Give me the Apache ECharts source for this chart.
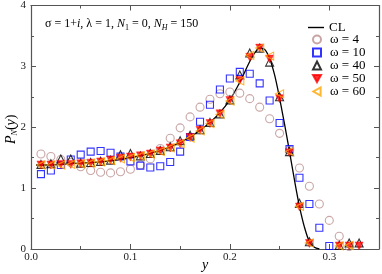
<!DOCTYPE html>
<html><head><meta charset="utf-8">
<script src="https://cdn.jsdelivr.net/npm/echarts@6/dist/echarts.min.js"></script>
<style>html,body{margin:0;padding:0;background:#fff}#c{width:382px;height:274px}</style>
</head><body><div id="c"></div>
<script>
// CL curve
const clX = [0.005,0.01,0.02,0.03,0.04,0.05,0.06,0.07,0.08,0.09,0.10,0.11,0.12,0.13,0.14,0.15,0.16,0.17,0.18,0.19,0.20,0.21,0.22,0.225,0.23,0.235,0.24,0.245,0.25,0.255,0.26,0.265,0.27,0.275,0.28,0.285,0.29];
const clY = [1.38,1.38,1.38,1.39,1.40,1.41,1.42,1.43,1.45,1.47,1.50,1.53,1.57,1.62,1.68,1.75,1.84,1.95,2.08,2.24,2.45,2.74,3.08,3.22,3.30,3.28,3.13,2.86,2.48,2.05,1.60,1.13,0.70,0.36,0.12,0.03,0.0];
// omega = 4
const w4X = [0.01,0.02,0.03,0.04,0.05,0.06,0.07,0.08,0.09,0.10,0.11,0.12,0.13,0.14,0.15,0.16,0.17,0.18,0.19,0.20,0.21,0.22,0.23,0.24,0.25,0.26,0.27,0.28,0.29,0.30,0.31,0.32];
const w4Y = [1.56,1.52,1.47,1.42,1.35,1.29,1.26,1.25,1.27,1.31,1.38,1.48,1.65,1.82,1.99,2.17,2.33,2.46,2.55,2.58,2.56,2.47,2.33,2.14,1.90,1.62,1.33,1.03,0.74,0.47,0.21,0.04];
// omega = 10
const w10X = [0.01,0.02,0.03,0.04,0.05,0.06,0.07,0.08,0.09,0.10,0.11,0.12,0.13,0.14,0.15,0.16,0.17,0.18,0.19,0.20,0.21,0.22,0.23,0.24,0.25,0.26,0.27,0.28,0.29,0.30];
const w10Y = [1.23,1.29,1.38,1.47,1.55,1.60,1.61,1.58,1.52,1.44,1.37,1.34,1.36,1.43,1.60,1.84,2.09,2.37,2.62,2.80,2.91,2.88,2.72,2.44,2.07,1.64,1.17,0.74,0.35,0.05];
// omega = 40
const w40X = [0.01,0.02,0.03,0.04,0.05,0.06,0.07,0.08,0.09,0.10,0.11,0.12,0.13,0.14,0.15,0.16,0.17,0.18,0.19,0.20,0.21,0.22,0.23,0.24,0.25,0.26,0.27,0.28,0.31,0.32,0.33];
const w40Y = [1.39,1.40,1.48,1.48,1.41,1.42,1.44,1.46,1.55,1.57,1.53,1.57,1.62,1.68,1.78,1.87,1.96,2.08,2.22,2.45,2.86,3.22,3.30,3.07,2.50,1.60,0.75,0.12,0.06,0.10,0.10];
// omega = 50
const w50X = [0.01,0.02,0.03,0.04,0.05,0.06,0.07,0.08,0.09,0.10,0.11,0.12,0.13,0.14,0.15,0.16,0.17,0.18,0.19,0.20,0.21,0.22,0.23,0.24,0.25,0.26,0.27,0.28,0.31,0.32,0.33];
const w50Y = [1.38,1.38,1.39,1.39,1.40,1.41,1.43,1.46,1.49,1.51,1.53,1.56,1.61,1.66,1.73,1.83,1.95,2.06,2.22,2.44,2.77,3.15,3.30,3.12,2.47,1.58,0.69,0.09,0.05,0.05,0.05];
// omega = 60
const w60X = [0.01,0.02,0.03,0.04,0.05,0.06,0.07,0.08,0.09,0.10,0.11,0.12,0.13,0.14,0.15,0.16,0.17,0.18,0.19,0.20,0.21,0.22,0.23,0.24,0.25,0.26,0.27,0.28,0.31,0.32];
const w60Y = [1.38,1.38,1.38,1.39,1.40,1.41,1.43,1.45,1.48,1.50,1.53,1.56,1.60,1.66,1.73,1.82,1.94,2.06,2.21,2.43,2.76,3.18,3.30,3.17,2.55,1.60,0.70,0.10,0.05,0.06];
const xTicks = ['0.0','0.1','0.2','0.3'];
const yTicks = ['0','1','2','3','4'];

const pairs = (xa, ya) => xa.map((x, i) => [x, ya[i]]);
const serif = 'Liberation Serif';
const axisCol = '#555';
const triDown = 'path://M0,0 L10,0 L5,9 Z';
const triLeft = 'path://M9,0 L9,10 L0,5 Z';

const chart = echarts.init(document.getElementById('c'), null, {renderer: 'canvas'});
const baseAxis = {
  type: 'value',
  axisLine: {show: true, onZero: false, lineStyle: {color: axisCol, width: 1.2}},
  axisTick: {show: true, inside: true, length: 5, lineStyle: {color: axisCol}},
  minorTick: {show: true, splitNumber: 2, length: 3, lineStyle: {color: axisCol}},
  splitLine: {show: false},
  minorSplitLine: {show: false}
};
const xLab = v => { const k = Math.round(v * 10); return Math.abs(v * 10 - k) < 1e-6 && k < xTicks.length ? xTicks[k] : ''; };
const yLab = v => { const k = Math.round(v); return Math.abs(v - k) < 1e-6 && k < yTicks.length ? yTicks[k] : ''; };
const legText = {fontFamily: serif, fontSize: 13, color: '#000', lineHeight: 12};

const option = {
  animation: false,
  backgroundColor: '#fff',
  textStyle: {fontFamily: serif},
  grid: {left: 31, right: 2, top: 5, bottom: 25},
  xAxis: [
    Object.assign({}, baseAxis, {min: 0, max: 0.35, interval: 0.1, position: 'bottom',
      axisLabel: {show: true, margin: 3, fontFamily: serif, fontSize: 11, color: '#222', formatter: xLab}}),
    Object.assign({}, baseAxis, {min: 0, max: 0.35, interval: 0.1, position: 'top', axisLabel: {show: false}})
  ],
  yAxis: [
    Object.assign({}, baseAxis, {min: 0, max: 4, interval: 1, position: 'left',
      axisLabel: {show: true, margin: 5, fontFamily: serif, fontSize: 11, color: '#222', formatter: yLab}}),
    Object.assign({}, baseAxis, {min: 0, max: 4, interval: 1, position: 'right', axisLabel: {show: false}})
  ],
  legend: [
    {orient: 'vertical', left: 303, top: 16, itemWidth: 16, itemHeight: 1.4, itemGap: 0,
      data: [{name: 'CL', icon: 'rect'}], textStyle: legText, selectedMode: false},
    {orient: 'vertical', left: 307, top: 28, itemWidth: 8, itemHeight: 8, itemGap: 0,
      data: ['ω = 4', 'ω = 10', 'ω = 40', 'ω = 50', 'ω = 60'],
      textStyle: Object.assign({padding: [0, 0, 0, 4]}, legText), selectedMode: false}
  ],
  series: [
    {name: 'CL', type: 'line', data: pairs(clX, clY), smooth: 0.3, showSymbol: false, symbol: 'none',
      lineStyle: {color: '#000', width: 1.3}, itemStyle: {color: '#000'}, z: 1},
    {name: 'ω = 4', type: 'scatter', data: pairs(w4X, w4Y), symbol: 'circle', symbolSize: 8,
      itemStyle: {color: 'rgba(0,0,0,0)', borderColor: '#bc8f8f', borderWidth: 1.1}, z: 2},
    {name: 'ω = 10', type: 'scatter', data: pairs(w10X, w10Y), symbol: 'rect', symbolSize: 7,
      itemStyle: {color: 'rgba(0,0,0,0)', borderColor: '#0000ff', borderWidth: 1.1}, z: 3},
    {name: 'ω = 40', type: 'scatter', data: pairs(w40X, w40Y), symbol: 'triangle', symbolSize: 8,
      itemStyle: {color: 'rgba(0,0,0,0)', borderColor: '#000', borderWidth: 1.1}, z: 4},
    {name: 'ω = 50', type: 'scatter', data: pairs(w50X, w50Y), symbol: triDown, symbolSize: 8,
      itemStyle: {color: '#ff0000', borderColor: '#ff0000', borderWidth: 0.5}, z: 5},
    {name: 'ω = 60', type: 'scatter', data: pairs(w60X, w60Y), symbol: triLeft, symbolSize: 8,
      itemStyle: {color: 'rgba(0,0,0,0)', borderColor: '#ffa500', borderWidth: 1.1}, z: 6}
  ],
  graphic: [
    {type: 'text', left: 45, top: 18, z: 10, style: {
      text: '{n|σ = 1+}{i|i}{n|, λ = 1, }{i|N}{s|1}{n| = 0, }{i|N}{si|H}{n| = 150}',
      rich: {
        n: {fontFamily: serif, fontSize: 12, fill: '#000', lineHeight: 15, verticalAlign: 'middle'},
        i: {fontFamily: serif, fontSize: 12, fontStyle: 'italic', fill: '#000', lineHeight: 15, verticalAlign: 'middle'},
        s: {fontFamily: serif, fontSize: 8, fill: '#000', lineHeight: 8, verticalAlign: 'bottom'},
        si: {fontFamily: serif, fontSize: 8, fontStyle: 'italic', fill: '#000', lineHeight: 8, verticalAlign: 'bottom'}
      }
    }},
    {type: 'text', x: 3, y: 144, rotation: Math.PI / 2, z: 10, style: {
      text: '{i|P}{si|N}{n|(}{i|y}{n|)}',
      rich: {
        n: {fontFamily: serif, fontSize: 14, fill: '#000', lineHeight: 16, verticalAlign: 'middle'},
        i: {fontFamily: serif, fontSize: 14, fontStyle: 'italic', fill: '#000', lineHeight: 16, verticalAlign: 'middle'},
        si: {fontFamily: serif, fontSize: 8, fontStyle: 'italic', fill: '#000', lineHeight: 8, verticalAlign: 'bottom'}
      }
    }},
    {type: 'text', left: 202, top: 258, z: 10, style: {text: 'y', fontFamily: serif, fontSize: 14, fontStyle: 'italic', fill: '#000'}}
  ]
};
chart.setOption(option);
</script>
</body></html>
